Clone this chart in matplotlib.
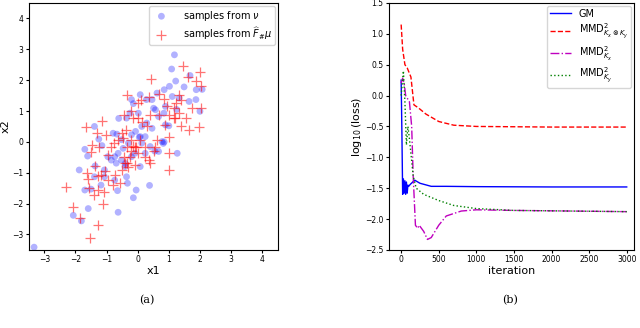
import numpy as np
import matplotlib.pyplot as plt
plt.switch_backend('agg')

# scatter samples
nu_x = [-3.33, -2.07, -1.81, -1.59, -1.88, -1.70, -1.61, -1.39, -1.25, -1.15, -1.37, -1.39,
        -1.70, -1.50, -1.18, -0.74, -0.65, -0.63, -0.14, -0.05, 0.38, -0.61, -0.67, -0.20,
        -0.14, 0.08, 0.28, 0.46, 0.62, 0.85, 1.02, 1.09, 1.18, 1.22, 1.49, 1.68, 1.88, 1.87,
        1.65, 2.00, 1.27, 1.11, 1.33, 0.89, 0.57, 0.89, 1.00, 0.78, 0.67, 0.40, 0.24, 0.08,
        -0.41, -0.36, -0.33, -0.52, -0.74, -0.85, -0.63, -0.47, -0.30, -0.20, -0.07, 0.08,
        0.13, 0.29, 0.46, 0.51, 0.67, 0.84, 0.02, -0.25, -0.36, -0.52, -0.69, -0.96, -1.07,
        -0.20, -0.09, 0.13, 0.24, -0.79, -1.07, 0.82, 0.85, 0.55, 1.25, -0.40, 0.05, 2.07]
nu_y = [-3.41, -2.38, -2.56, -2.16, -0.91, -0.24, -0.46, 0.50, 0.09, -0.12, -0.78, -1.13,
        -1.56, -1.53, -1.40, -1.24, -1.58, -2.28, -1.81, -1.56, -1.41, 0.76, 0.25, 1.37,
        1.24, 1.53, 1.37, 1.37, 1.58, 1.69, 1.80, 2.36, 2.82, 1.97, 1.78, 2.15, 1.69, 1.37,
        1.31, 0.99, -0.37, 1.47, 1.42, 1.15, 1.04, 0.55, 0.52, 0.01, -0.31, -0.15, -0.37, -0.80,
        -0.80, -1.13, -1.34, -0.59, -0.48, -0.59, -0.37, -0.21, -0.04, 0.23, 0.34, 0.17,
        0.50, 0.61, 0.44, 1.09, 0.82, 0.93, 0.93, 0.93, 0.77, 0.07, -0.69, -0.48, -0.91,
        -0.48, -0.37, -0.04, 0.17, 0.28, -1.13, -0.05, 0.00, -0.30, 1.05, -0.70, 0.15, 1.70]

fmu_x = [-2.32, -2.07, -1.85, -1.52, -1.28, -1.11, -1.39, -1.28, -1.09, -1.63, -1.61, -1.55,
         -1.36, -1.28, -1.65, -1.31, -1.14, -1.01, -1.48, -1.50, -1.23, -1.18, -1.04, -0.96,
         -0.79, -0.72, -0.58, -0.94, -0.85, -0.76, -0.63, -0.52, -0.39, -0.36, -0.44, -0.20,
         0.00, 0.11, 0.37, 0.44, 0.67, 0.84, 0.95, 1.22, 1.38, 1.33, 1.46, 1.61, 1.87, 2.01,
         2.03, 2.03, 1.74, 1.55, 1.33, 1.16, 1.00, 1.38, 1.65, 1.98, 1.00, 1.02, 1.02, 0.62,
         0.51, 0.55, 0.29, 0.13, 0.40, 0.67, 0.89, -0.09, -0.14, 0.02, 0.22, 0.35, 0.40,
         -0.41, -0.44, -0.25, -0.52, -0.30, -0.09, -0.22, -0.36, -0.47, -0.20, 0.08, 0.24,
         0.02, -0.14, -0.35, -0.05, 1.15, 1.20]
fmu_y = [-1.47, -2.12, -2.48, -3.11, -2.70, -2.02, -1.72, -1.56, -1.61, -1.00, -1.20, -1.51,
         -0.78, -1.11, 0.47, 0.28, 0.68, 0.23, -0.10, -0.33, -0.15, -1.07, -0.93, -1.24,
         -1.40, -1.07, -1.34, -0.42, -0.15, -0.04, 0.07, 0.28, 0.39, 1.53, 0.88, 1.01,
         1.26, 1.37, 1.45, 2.04, 1.55, 1.39, 1.17, 1.26, 1.37, 1.53, 2.45, 2.10, 1.96, 2.25,
         1.80, 1.09, 1.09, 0.77, 0.93, 0.77, 0.88, 0.52, 0.37, 0.48, 0.15, -0.37, -0.91, 0.07,
         -0.31, -0.15, 0.50, 0.66, 0.88, 0.88, 0.55, -0.15, -0.13, -0.37, -0.48, -0.59, -0.69,
         -0.69, -0.48, -0.48, -0.91, -0.80, -0.75, -0.31, -0.15, 0.12, 0.07, 0.07, -0.15,
         0.77, 0.77, -0.70, -0.18, 1.10, 0.78]

# loss curves
gm_it = [0, 10, 20, 30, 40, 50, 60, 70, 80, 90, 100, 120, 180, 250, 400, 600, 1000, 2000, 3000]
gm_val = [0.25, -0.6, -1.6, -1.35, -1.58, -1.38, -1.6, -1.4, -1.58, -1.45, -1.47, -1.44,
          -1.37, -1.42, -1.47, -1.47, -1.475, -1.48, -1.48]
joint_it = [0, 20, 50, 80, 130, 170, 230, 330, 500, 700, 1000, 2000, 3000]
joint_val = [1.15, 0.75, 0.5, 0.45, 0.3, -0.15, -0.2, -0.3, -0.42, -0.48, -0.5, -0.51, -0.51]
kx_it = [0, 20, 40, 60, 110, 140, 160, 190, 220, 240, 300, 350, 400, 500, 600, 800, 1000, 1500, 3000]
kx_val = [0.2, 0.28, 0.2, 0.0, -0.1, -0.5, -1.3, -2.1, -2.15, -2.1, -2.2, -2.33, -2.3,
          -2.1, -1.95, -1.87, -1.85, -1.86, -1.88]
ky_it = [0, 30, 50, 70, 90, 110, 160, 200, 300, 500, 700, 1000, 1500, 3000]
ky_val = [0.0, 0.4, -0.1, -0.8, -0.5, -0.7, -1.3, -1.5, -1.6, -1.7, -1.78, -1.83, -1.86, -1.88]

fig = plt.figure(figsize=(6.4, 3.28), dpi=100)
ax1 = fig.add_axes([0.045, 0.238, 0.389, 0.753])
ax2 = fig.add_axes([0.608, 0.238, 0.383, 0.753])

ax1.scatter(nu_x, nu_y, s=24, c='blue', alpha=0.3, edgecolors='none',
            label=r'samples from $\nu$')
ax1.scatter(fmu_x, fmu_y, s=42, c='red', marker='+', alpha=0.55, linewidths=0.9,
            label=r'samples from $\widehat{F}_{\#}\mu$')
ax1.set_xlim(-3.5, 4.5)
ax1.set_ylim(-3.5, 4.5)
ax1.set_xticks(range(-3, 5))
ax1.set_yticks(range(-3, 5))
ax1.set_xlabel('x1', fontsize=8, labelpad=1)
ax1.set_ylabel('x2', fontsize=8, labelpad=1)
ax1.tick_params(labelsize=5.5, length=2.5, pad=1.5)
ax1.legend(loc='upper right', fontsize=7, handletextpad=1.2, borderpad=0.3,
           labelspacing=0.25, borderaxespad=0.3)

ax2.plot(gm_it, gm_val, 'b-', lw=1.0, label='GM')
ax2.plot(joint_it, joint_val, 'r--', lw=1.0, label=r'MMD$^2_{K_x \otimes K_y}$')
ax2.plot(kx_it, kx_val, 'm-.', lw=1.0, label=r'MMD$^2_{K_x}$')
ax2.plot(ky_it, ky_val, 'g:', lw=1.0, label=r'MMD$^2_{K_y}$')
ax2.set_xlim(-160, 3100)
ax2.set_ylim(-2.5, 1.5)
ax2.set_xlabel('iteration', fontsize=8, labelpad=1)
ax2.set_ylabel(r'$\log_{10}$(loss)', fontsize=8, labelpad=1)
ax2.tick_params(labelsize=5.5, length=2.5, pad=1.5)
ax2.legend(loc='upper right', fontsize=7, borderpad=0.3, labelspacing=0.35,
           borderaxespad=0.3, handlelength=2.2)

fig.text(0.23, 0.085, '(a)', family='DejaVu Serif', fontsize=8, ha='center', va='center')
fig.text(0.797, 0.085, '(b)', family='DejaVu Serif', fontsize=8, ha='center', va='center')

plt.savefig('out.png', dpi=100)
